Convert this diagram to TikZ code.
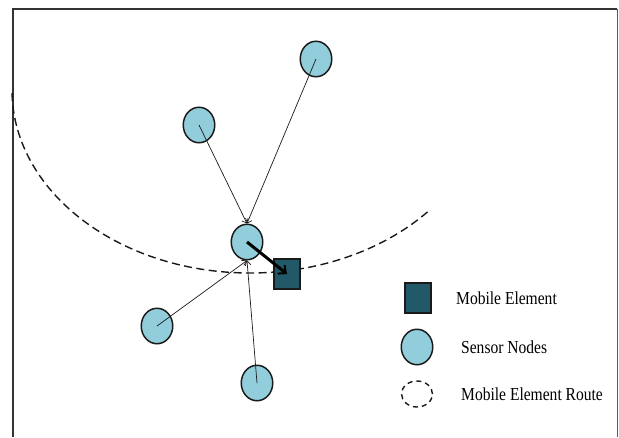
\documentclass[tikz,border=0pt]{standalone}
\usepackage{fontspec}
\setmainfont{Liberation Serif}
\usetikzlibrary{shapes.geometric,arrows.meta,calc}
\definecolor{sensorfill}{HTML}{92CDDC}
\definecolor{mobilefill}{HTML}{215968}
\definecolor{edge}{HTML}{1A1A1A}
\definecolor{framec}{HTML}{333333}
\tikzset{
  sensor/.style={ellipse, draw=edge, fill=sensorfill, line width=1.5pt, minimum width=31.5pt, minimum height=35.5pt, inner sep=0pt},
  mobile/.style={rectangle, draw=edge, fill=mobilefill, line width=1.5pt, minimum width=26pt, minimum height=30pt, inner sep=0pt},
  route/.style={draw=edge, line width=1.4pt, dash pattern=on 8pt off 4.5pt},
  link/.style={draw=edge, line width=0.7pt, -{Straight Barb[length=4pt,width=7pt]}},
  carry/.style={draw=black, line width=3pt, -{Straight Barb[length=6pt,width=11pt,line width=2pt]}},
  lab/.style={font=\fontsize{18.3}{20}\selectfont, xscale=0.85, anchor=west, inner sep=0pt},
}

\begin{document}
\begin{tikzpicture}[x=1pt,y=-1pt]
  \useasboundingbox (0,0) rectangle (619,437);

  % frame
  \draw[framec, line width=1.8pt] (12.7,437) -- (12.7,9) -- (617,9);
  \draw[framec!80, line width=1pt] (617,9) -- (617,437);

  % route of the mobile element
  \coordinate (rc) at (250,90);
  \draw[route] ($(rc)+(179:238 and 183)$) arc[start angle=179, end angle=41, x radius=238, y radius=183];

  % sensors
  \node[sensor] (hub) at (247,242) {};
  \node[sensor] (s1) at (316,59) {};
  \node[sensor] (s2) at (199,125) {};
  \node[sensor] (s3) at (157,326) {};
  \node[sensor] (s4) at (257,383) {};
  \node[mobile] (me) at (287,274) {};

  \draw[link] (s2.center) -- (hub.north);
  \draw[link] (s1.center) -- (hub.north);
  \draw[link] (s3.center) -- (hub.south);
  \draw[link] (s4.center) -- (hub.south);
  \draw[carry] (hub.center) -- (me.center);

  % legend
  \node[mobile] (legme) at (418,298) {};
  \node[sensor] (legsn) at (417,347) {};
  \node[ellipse, draw=edge, line width=1.4pt, dash pattern=on 5pt off 4pt, minimum width=31pt, minimum height=26pt] (legrt) at (417,394) {};
  \node[lab] (tme) at (456,298) {Mobile Element};
  \node[lab] (tsn) at (461,347) {Sensor Nodes};
  \node[lab] (trt) at (461,394) {Mobile Element Route};
\end{tikzpicture}
\end{document}
